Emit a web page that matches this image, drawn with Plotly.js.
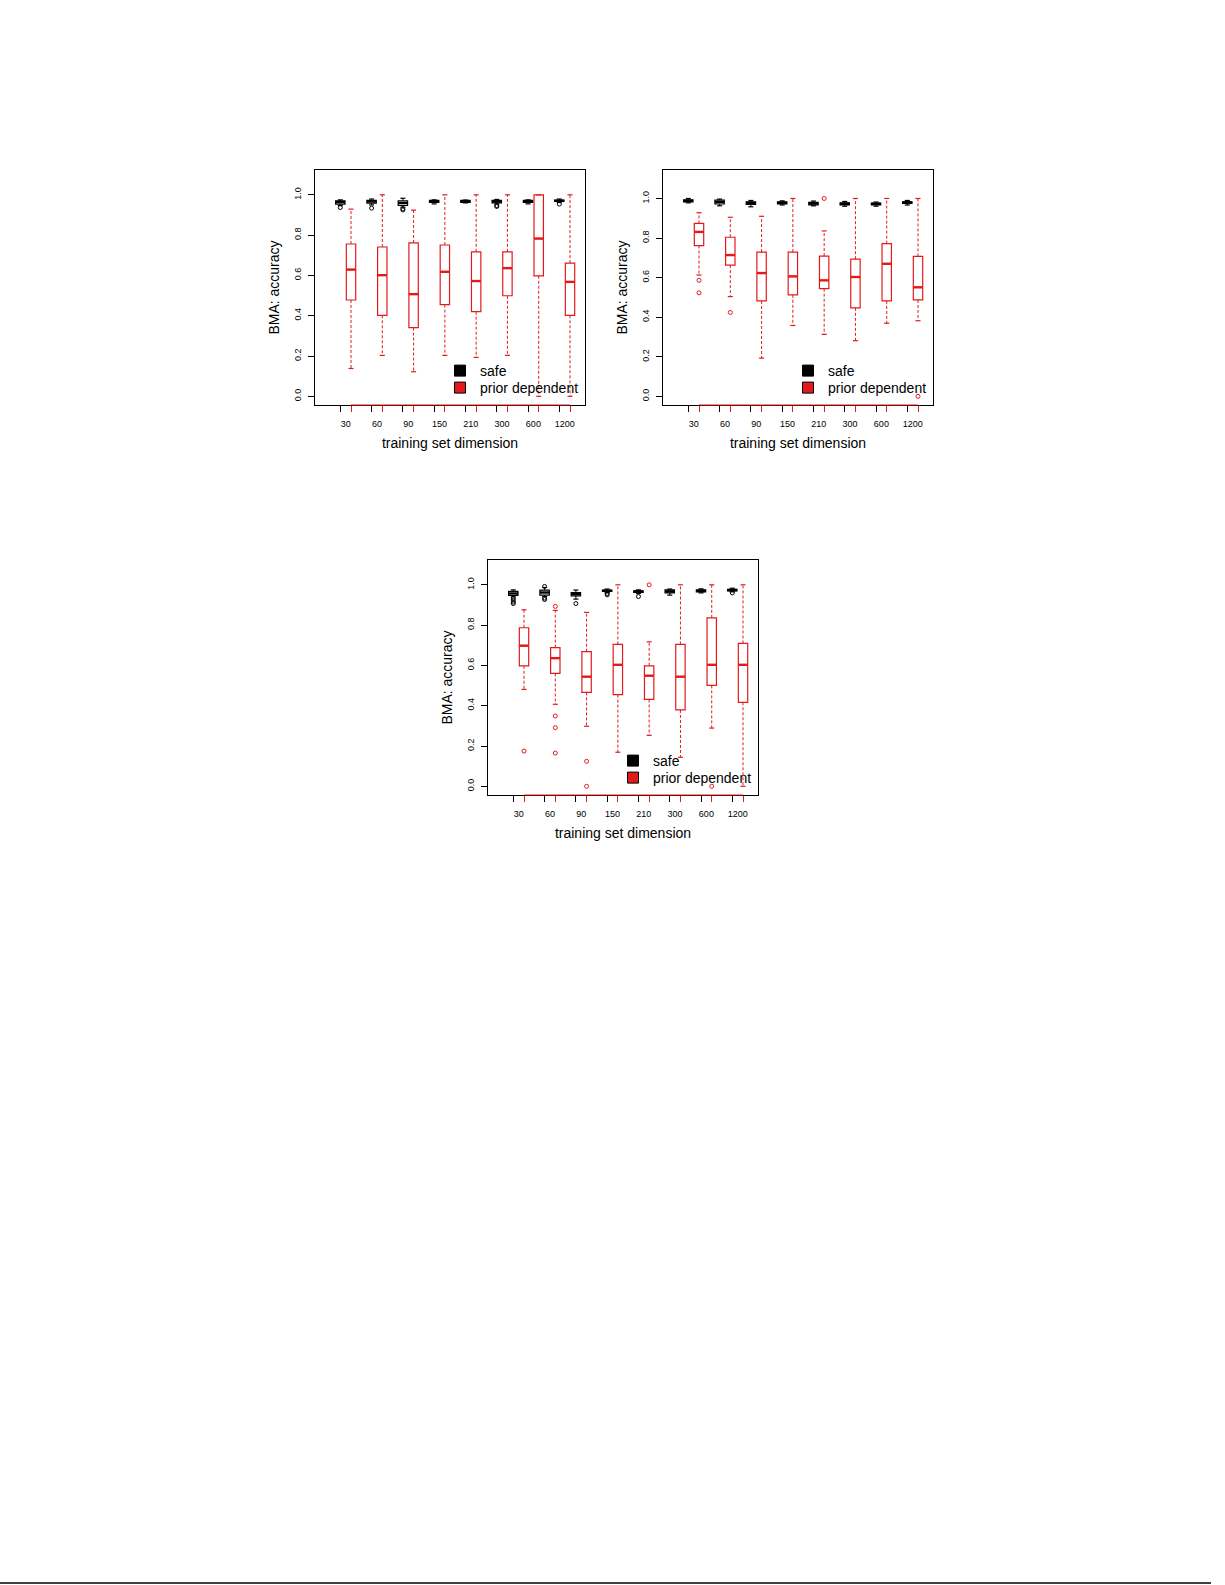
<!DOCTYPE html>
<html>
<head>
<meta charset="utf-8">
<script src="https://cdn.plot.ly/plotly-3.0.1.min.js"></script>
<style>
  html, body { margin: 0; padding: 0; background: #fff; }
  #chart { width: 1225px; height: 1585px; }
</style>
</head>
<body>
<div id="chart"></div>
<script>
// training set sizes (x categories)
const sizes = ['30', '60', '90', '150', '210', '300', '600', '1200'];
const yTicks = [0, 0.2, 0.4, 0.6, 0.8, 1.0];
const yTickText = ['0.0', '0.2', '0.4', '0.6', '0.8', '1.0'];
const seriesNames = ['safe', 'prior dependent'];

// panel 1 (top left)
const p1SafeQ1  = [0.954, 0.959, 0.947, 0.962, 0.962, 0.960, 0.962, 0.967];
const p1SafeMed = [0.964, 0.967, 0.959, 0.967, 0.967, 0.967, 0.967, 0.970];
const p1SafeQ3  = [0.970, 0.972, 0.970, 0.972, 0.972, 0.972, 0.972, 0.974];
const p1SafeLo  = [0.947, 0.950, 0.939, 0.955, 0.960, 0.955, 0.955, 0.962];
const p1SafeHi  = [0.975, 0.979, 0.983, 0.975, 0.974, 0.977, 0.975, 0.979];
const p1SafeOut = [[0.937], [0.934], [0.930, 0.925], [], [], [0.947, 0.942], [], [0.954]];

const p1PriorQ1  = [0.478, 0.402, 0.341, 0.455, 0.420, 0.499, 0.598, 0.402];
const p1PriorMed = [0.629, 0.601, 0.507, 0.618, 0.572, 0.636, 0.783, 0.568];
const p1PriorQ3  = [0.756, 0.741, 0.761, 0.751, 0.717, 0.717, 1.000, 0.661];
const p1PriorLo  = [0.138, 0.203, 0.122, 0.203, 0.193, 0.203, 0.000, 0.000];
const p1PriorHi  = [0.929, 1.000, 0.924, 1.000, 1.000, 1.000, 1.000, 1.000];
const p1PriorOut = [[], [], [], [], [], [], [], []];

// panel 2 (top right)
const p2SafeQ1  = [0.983, 0.972, 0.970, 0.972, 0.968, 0.968, 0.968, 0.975];
const p2SafeMed = [0.988, 0.982, 0.978, 0.978, 0.975, 0.973, 0.973, 0.980];
const p2SafeQ3  = [0.993, 0.992, 0.983, 0.983, 0.980, 0.978, 0.977, 0.983];
const p2SafeLo  = [0.978, 0.963, 0.958, 0.967, 0.963, 0.961, 0.961, 0.967];
const p2SafeHi  = [1.000, 0.997, 0.990, 0.988, 0.987, 0.985, 0.982, 0.990];
const p2SafeOut = [[], [], [], [], [], [], [], []];

const p2PriorQ1  = [0.762, 0.663, 0.482, 0.513, 0.544, 0.447, 0.482, 0.487];
const p2PriorMed = [0.831, 0.714, 0.623, 0.606, 0.586, 0.603, 0.670, 0.551];
const p2PriorQ3  = [0.874, 0.804, 0.729, 0.729, 0.709, 0.693, 0.772, 0.707];
const p2PriorLo  = [0.613, 0.504, 0.193, 0.358, 0.313, 0.281, 0.369, 0.382];
const p2PriorHi  = [0.928, 0.905, 0.910, 1.000, 0.836, 1.000, 1.000, 1.000];
const p2PriorOut = [[0.586, 0.523], [0.424], [], [], [1.0], [], [], [0.0]];

// panel 3 (bottom)
const p3SafeQ1  = [0.947, 0.949, 0.945, 0.967, 0.962, 0.960, 0.965, 0.970];
const p3SafeMed = [0.957, 0.962, 0.954, 0.970, 0.967, 0.967, 0.970, 0.974];
const p3SafeQ3  = [0.967, 0.974, 0.962, 0.974, 0.970, 0.975, 0.975, 0.977];
const p3SafeLo  = [0.940, 0.942, 0.929, 0.962, 0.957, 0.949, 0.960, 0.965];
const p3SafeHi  = [0.975, 0.987, 0.974, 0.979, 0.975, 0.979, 0.980, 0.983];
const p3SafeOut = [[0.934, 0.924, 0.914, 0.907], [0.934, 0.927, 0.992], [0.907], [0.957, 0.950], [0.942], [], [], [0.960]];

const p3PriorQ1  = [0.598, 0.560, 0.466, 0.455, 0.431, 0.379, 0.501, 0.417];
const p3PriorMed = [0.698, 0.636, 0.544, 0.603, 0.549, 0.544, 0.603, 0.603];
const p3PriorQ3  = [0.787, 0.688, 0.668, 0.704, 0.598, 0.704, 0.836, 0.709];
const p3PriorLo  = [0.481, 0.407, 0.298, 0.169, 0.253, 0.144, 0.289, 0.000];
const p3PriorHi  = [0.876, 0.873, 0.863, 1.000, 0.717, 1.000, 1.000, 1.000];
const p3PriorOut = [[0.175], [0.893, 0.349, 0.291, 0.165], [0.124, 0.0], [], [1.0], [], [0.0], []];

const RED = '#e31a1c';
const BLACK = '#000000';
const FONT = 'Liberation Sans, Arial, Helvetica, sans-serif';
const W = 1225, H = 1585;

const groupIdx = sizes.map((s, i) => i + 1);
const safePos = groupIdx.map(g => g - 0.171);
const priorPos = groupIdx.map(g => g + 0.171);
const xRange = [0.02, 8.65];

function seriesTraces(xa, ya, pos, s, color) {
  const wx = [], wy = [], cx = [], cy = [], ox = [], oy = [];
  pos.forEach((p, i) => {
    wx.push(p, p, null, p, p, null);
    wy.push(s.q3[i], s.hi[i], null, s.q1[i], s.lo[i], null);
    cx.push(p, p);
    cy.push(s.hi[i], s.lo[i]);
    s.out[i].forEach(v => { ox.push(p); oy.push(v); });
  });
  const common = { xaxis: xa, yaxis: ya, showlegend: false, hoverinfo: 'skip' };
  return [
    // dashed whiskers
    Object.assign({ type: 'scatter', mode: 'lines', x: wx, y: wy,
      line: { color: color, width: 1, dash: '3px,2px' } }, common),
    Object.assign({ type: 'box', x: pos, q1: s.q1, median: s.med, q3: s.q3,
      lowerfence: s.q1, upperfence: s.q3, width: 0.3, whiskerwidth: 0,
      fillcolor: '#ffffff', line: { color: color, width: 1.2 } }, common),
    // thick medians
    Object.assign({ type: 'scatter', mode: 'markers', x: pos, y: s.med,
      marker: { symbol: 'line-ew-open', size: 6.7, color: color, line: { color: color, width: 2.4 } } }, common),
    // staples
    Object.assign({ type: 'scatter', mode: 'markers', x: cx, y: cy,
      marker: { symbol: 'line-ew-open', size: 3.6, color: color, line: { color: color, width: 1.2 } } }, common),
    // outliers
    Object.assign({ type: 'scatter', mode: 'markers', x: ox, y: oy,
      marker: { symbol: 'circle-open', size: 4, color: color, line: { color: color, width: 1 } } }, common)
  ];
}

const panels = [
  { n: '', left: 315, top: 170, yr: [-0.0432, 1.1232],
    safe: { q1: p1SafeQ1, med: p1SafeMed, q3: p1SafeQ3, lo: p1SafeLo, hi: p1SafeHi, out: p1SafeOut },
    prior: { q1: p1PriorQ1, med: p1PriorMed, q3: p1PriorQ3, lo: p1PriorLo, hi: p1PriorHi, out: p1PriorOut } },
  { n: '2', left: 663, top: 170, yr: [-0.044, 1.144],
    safe: { q1: p2SafeQ1, med: p2SafeMed, q3: p2SafeQ3, lo: p2SafeLo, hi: p2SafeHi, out: p2SafeOut },
    prior: { q1: p2PriorQ1, med: p2PriorMed, q3: p2PriorQ3, lo: p2PriorLo, hi: p2PriorHi, out: p2PriorOut } },
  { n: '3', left: 488, top: 560, yr: [-0.0432, 1.1232],
    safe: { q1: p3SafeQ1, med: p3SafeMed, q3: p3SafeQ3, lo: p3SafeLo, hi: p3SafeHi, out: p3SafeOut },
    prior: { q1: p3PriorQ1, med: p3PriorMed, q3: p3PriorQ3, lo: p3PriorLo, hi: p3PriorHi, out: p3PriorOut } }
];

const data = [];
const layout = {
  width: W, height: H,
  margin: { l: 0, r: 0, t: 0, b: 0 },
  paper_bgcolor: '#ffffff', plot_bgcolor: '#ffffff',
  font: { family: FONT, color: BLACK, size: 14 },
  showlegend: true,
  shapes: [{ type: 'line', xref: 'paper', yref: 'paper',
    x0: 0, x1: 1211 / W, y0: 1 - 1583 / H, y1: 1 - 1583 / H,
    line: { color: BLACK, width: 1.5 } }]
};

panels.forEach((p, k) => {
  const xa = 'x' + p.n, ya = 'y' + p.n;
  const xb = 'x' + (k + 4), xr = 'x' + (k + 7);
  const dom = [p.left / W, (p.left + 270) / W];
  const ydom = [1 - (p.top + 235) / H, 1 - p.top / H];

  data.push(...seriesTraces(xa, ya, safePos, p.safe, BLACK));
  data.push(...seriesTraces(xa, ya, priorPos, p.prior, RED));
  // placeholders so the tick-only axes are drawn
  data.push({ type: 'scatter', x: [null], y: [null], xaxis: xb, yaxis: ya, showlegend: false, hoverinfo: 'skip' });
  data.push({ type: 'scatter', x: [null], y: [null], xaxis: xr, yaxis: ya, showlegend: false, hoverinfo: 'skip' });

  // one legend box per entry, so the rows can sit as tight as in the original
  [BLACK, RED].forEach((c, j) => {
    const num = 2 * k + j + 1;
    const lname = num === 1 ? 'legend' : 'legend' + num;
    data.push({ type: 'scatter', mode: 'markers', x: [null], y: [null], xaxis: xa, yaxis: ya,
      name: seriesNames[j], legend: lname,
      marker: { symbol: 'square', size: 11, color: c, line: { color: BLACK, width: 1 } } });
    layout[lname] = {
      x: (p.left + 125) / W, y: 1 - (p.top + 185 + 17 * j) / H,
      xanchor: 'left', yanchor: 'top',
      bgcolor: 'rgba(0,0,0,0)', borderwidth: 0,
      font: { size: 14, family: FONT, color: BLACK }
    };
  });

  layout['xaxis' + p.n] = {
    domain: dom, anchor: ya, range: xRange, fixedrange: true,
    showgrid: false, zeroline: false, showline: true, mirror: true,
    linecolor: BLACK, linewidth: 1,
    tickmode: 'array', tickvals: groupIdx, ticktext: sizes,
    ticks: 'outside', ticklen: 6, tickcolor: 'rgba(0,0,0,0)', ticklabelstandoff: 4,
    tickfont: { size: 9, family: FONT },
    title: { text: 'training set dimension', font: { size: 14, family: FONT }, standoff: 10 }
  };
  layout['xaxis' + (k + 4)] = {
    overlaying: xa, anchor: ya, range: xRange, fixedrange: true,
    showgrid: false, zeroline: false, showline: false, showticklabels: false,
    tickmode: 'array', tickvals: safePos, ticks: 'outside', ticklen: 6,
    tickcolor: BLACK, tickwidth: 1
  };
  layout['xaxis' + (k + 7)] = {
    overlaying: xa, anchor: ya, range: xRange, fixedrange: true,
    showgrid: false, zeroline: false, showline: false, showticklabels: false,
    tickmode: 'array', tickvals: priorPos, ticks: 'outside', ticklen: 6,
    tickcolor: RED, tickwidth: 1
  };
  layout['yaxis' + p.n] = {
    domain: ydom, anchor: xa, range: p.yr, fixedrange: true,
    showgrid: false, zeroline: false, showline: true, mirror: true,
    linecolor: BLACK, linewidth: 1,
    tickmode: 'array', tickvals: yTicks, ticktext: yTickText,
    ticks: 'outside', ticklen: 6, tickcolor: BLACK, tickangle: -90,
    ticklabelstandoff: 3,
    tickfont: { size: 9, family: FONT },
    title: { text: 'BMA: accuracy', font: { size: 14, family: FONT }, standoff: 10 }
  };
  // red axis line between first and last prior tick
  layout.shapes.push({ type: 'line', xref: xa, yref: ya + ' domain',
    x0: priorPos[0], x1: priorPos[priorPos.length - 1], y0: 0, y1: 0,
    line: { color: RED, width: 1 } });
});

Plotly.newPlot('chart', data, layout, { staticPlot: true });
</script>
</body>
</html>
